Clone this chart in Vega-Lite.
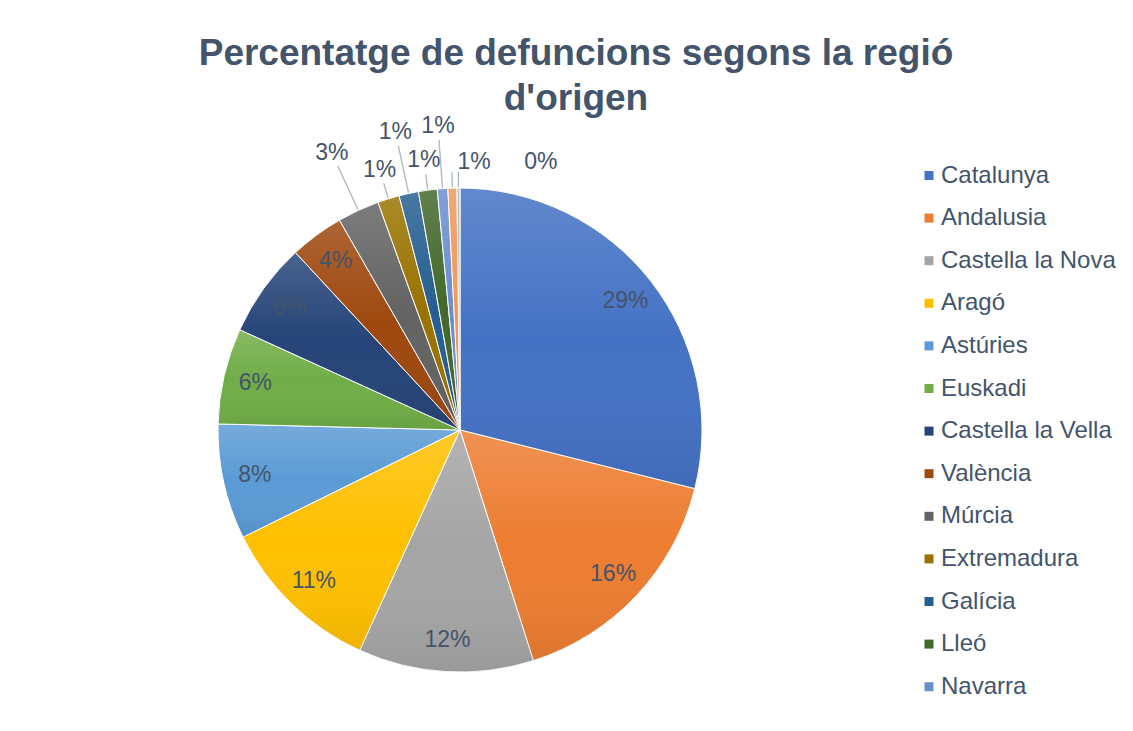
{
  "$schema": "https://vega.github.io/schema/vega-lite/v6.json",
  "autosize": "none",
  "width": 920,
  "height": 580,
  "padding": {"left": 0, "top": 140, "right": 213, "bottom": 11},
  "background": "white",
  "config": {"view": {"stroke": null}, "font": "Liberation Sans"},
  "title": {
    "text": ["Percentatge de defuncions segons la regió", "d'origen"],
    "fontSize": 37,
    "fontWeight": "bold",
    "color": "#44546A",
    "anchor": "middle",
    "frame": "group",
    "dx": 116,
    "lineHeight": 45,
    "offset": -3
  },
  "data": {
    "values": [
      {"order": 1, "region": "Catalunya", "value": 28.9, "label": "29%"},
      {"order": 2, "region": "Andalusia", "value": 16.2, "label": "16%"},
      {"order": 3, "region": "Castella la Nova", "value": 11.7, "label": "12%"},
      {"order": 4, "region": "Aragó", "value": 10.9, "label": "11%"},
      {"order": 5, "region": "Astúries", "value": 7.7, "label": "8%"},
      {"order": 6, "region": "Euskadi", "value": 6.4, "label": "6%"},
      {"order": 7, "region": "Castella la Vella", "value": 6.3, "label": "6%"},
      {"order": 8, "region": "València", "value": 3.6, "label": "4%"},
      {"order": 9, "region": "Múrcia", "value": 2.8, "label": "3%"},
      {"order": 10, "region": "Extremadura", "value": 1.45, "label": "1%"},
      {"order": 11, "region": "Galícia", "value": 1.3, "label": "1%"},
      {"order": 12, "region": "Lleó", "value": 1.25, "label": "1%"},
      {"order": 13, "region": "Navarra", "value": 0.7, "label": "1%"},
      {"order": 14, "region": "Balears", "value": 0.6, "label": "1%"},
      {"order": 15, "region": "Altres", "value": 0.2, "label": "0%"}
    ]
  },
  "transform": [
    {"stack": "value", "groupby": [], "sort": [{"field": "order", "order": "ascending"}], "as": ["v0", "v1"]},
    {"calculate": "(datum.v0 + datum.v1) / 2", "as": "vmid"}
  ],
  "layer": [
    {
      "mark": {"type": "arc", "radius": 242, "stroke": "#FFFFFF", "strokeWidth": 1},
      "encoding": {
        "theta": {"field": "v0", "type": "quantitative", "scale": {"domain": [0, 100]}},
        "theta2": {"field": "v1"},
        "color": {
          "field": "region",
          "type": "nominal",
          "scale": {
            "domain": ["Catalunya", "Andalusia", "Castella la Nova", "Aragó", "Astúries", "Euskadi", "Castella la Vella", "València", "Múrcia", "Extremadura", "Galícia", "Lleó", "Navarra", "Balears", "Altres"],
            "range": ["#4472C4", "#ED7D31", "#A5A5A5", "#FFC000", "#5B9BD5", "#70AD47", "#264478", "#9E480E", "#636363", "#997300", "#255E91", "#43682B", "#698ED0", "#F1975A", "#B7B7B7"]
          },
          "legend": {
            "title": null,
            "orient": "none",
            "legendX": 917,
            "legendY": 23.5,
            "padding": 0,
            "symbolType": "square",
            "symbolSize": 81,
            "symbolStrokeWidth": 0,
            "labelFontSize": 24,
            "labelColor": "#44546A",
            "labelOffset": 0,
            "rowPadding": 18.6,
            "labelLimit": 300,
            "values": ["Catalunya", "Andalusia", "Castella la Nova", "Aragó", "Astúries", "Euskadi", "Castella la Vella", "València", "Múrcia", "Extremadura", "Galícia", "Lleó", "Navarra"]
          }
        }
      }
    },
    {
      "mark": {
        "type": "arc",
        "radius": 242,
        "strokeWidth": 0,
        "color": {
          "gradient": "linear",
          "x1": 0, "y1": 0, "x2": 0, "y2": 1,
          "stops": [
            {"offset": 0, "color": "rgba(255,255,255,0.16)"},
            {"offset": 0.5, "color": "rgba(255,255,255,0)"},
            {"offset": 1, "color": "rgba(0,0,0,0.07)"}
          ]
        }
      },
      "encoding": {
        "theta": {"field": "v0", "type": "quantitative", "scale": {"domain": [0, 100]}},
        "theta2": {"field": "v1"}
      }
    },
    {
      "transform": [{"filter": "datum.order <= 8"}],
      "mark": {"type": "text", "radius": 210, "fontSize": 23, "fill": "#44546A", "baseline": "middle", "align": "center"},
      "encoding": {
        "theta": {"field": "vmid", "type": "quantitative", "stack": null, "scale": {"domain": [0, 100]}},
        "text": {"field": "label"}
      }
    },
    {
      "transform": [{"filter": "datum.order == 9 || datum.order == 11 || datum.order == 13"}],
      "mark": {"type": "text", "radius": 305, "fontSize": 23, "fill": "#44546A", "baseline": "middle", "align": "center"},
      "encoding": {
        "theta": {"field": "vmid", "type": "quantitative", "stack": null, "scale": {"domain": [0, 100]}},
        "text": {"field": "label"}
      }
    },
    {
      "transform": [{"filter": "datum.order == 10 || datum.order == 12"}],
      "mark": {"type": "text", "radius": 272, "fontSize": 23, "fill": "#44546A", "baseline": "middle", "align": "center"},
      "encoding": {
        "theta": {"field": "vmid", "type": "quantitative", "stack": null, "scale": {"domain": [0, 100]}},
        "text": {"field": "label"}
      }
    },
    {
      "transform": [{"filter": "datum.order == 14"}],
      "mark": {"type": "text", "radius": 268, "dx": 6, "fontSize": 23, "fill": "#44546A", "baseline": "middle", "align": "left"},
      "encoding": {
        "theta": {"field": "vmid", "type": "quantitative", "stack": null, "scale": {"domain": [0, 100]}},
        "text": {"field": "label"}
      }
    },
    {
      "transform": [{"filter": "datum.order == 15"}],
      "mark": {"type": "text", "radius": 268, "dx": 66, "fontSize": 23, "fill": "#44546A", "baseline": "middle", "align": "left"},
      "encoding": {
        "theta": {"field": "vmid", "type": "quantitative", "stack": null, "scale": {"domain": [0, 100]}},
        "text": {"field": "label"}
      }
    },
    {
      "transform": [{"filter": "datum.order == 10 || datum.order == 12 || datum.order == 14 || datum.order == 15"}],
      "mark": {"type": "arc", "radius": 258, "radius2": 243, "filled": false, "stroke": "#A9B6C6", "strokeWidth": 1.3},
      "encoding": {
        "theta": {"field": "vmid", "type": "quantitative", "stack": null, "scale": {"domain": [0, 100]}},
        "theta2": {"field": "vmid"}
      }
    },
    {
      "transform": [{"filter": "datum.order == 9 || datum.order == 11 || datum.order == 13"}],
      "mark": {"type": "arc", "radius": 291, "radius2": 243, "filled": false, "stroke": "#A9B6C6", "strokeWidth": 1.3},
      "encoding": {
        "theta": {"field": "vmid", "type": "quantitative", "stack": null, "scale": {"domain": [0, 100]}},
        "theta2": {"field": "vmid"}
      }
    }
  ]
}
